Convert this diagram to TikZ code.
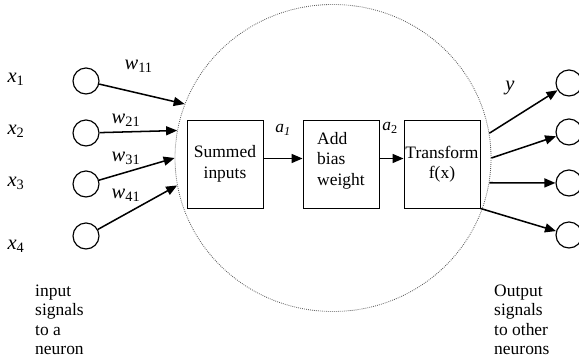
\documentclass[tikz,border=0pt]{standalone}
\usepackage{fontspec}
\setmainfont{Liberation Serif}
\usetikzlibrary{arrows.meta, shapes.geometric, positioning}
\newcommand{\boxtxt}{\fontsize{14.9}{17.5}\selectfont}
\newcommand{\labtxt}{\fontsize{17.5}{20}\selectfont}
\newcommand{\sidetxt}{\fontsize{14.9}{16.6}\selectfont}

\begin{document}
\begin{tikzpicture}[
    box/.style={draw, minimum width=2.28cm, minimum height=2.64cm,
                align=center, inner sep=0pt, font=\boxtxt, line width=0.8pt},
    sig/.style={draw, circle, minimum size=0.78cm, inner sep=0pt, line width=1pt},
    arr/.style={-{Triangle[length=0.33cm, width=0.27cm]}, line width=1.3pt},
    lab/.style={font=\labtxt, inner sep=0pt}
  ]
    \useasboundingbox (0,0) rectangle (17.37,10.92);

    % Neuron body
    \node[ellipse, draw, densely dotted, black!65, line width=0.7pt,
          minimum width=9.48cm, minimum height=9.21cm] (neuron) at (9.99, 6.18) {};

    % Inputs
    \node[sig] (i1) at (2.58, 8.49) {};
    \node[sig] (i2) at (2.58, 6.93) {};
    \node[sig] (i3) at (2.58, 5.40) {};
    \node[sig] (i4) at (2.58, 3.84) {};

    \node[lab] (x1) at (0.48, 8.55) {\textit{x}\textsubscript{1}};
    \node[lab] (x2) at (0.48, 6.99) {\textit{x}\textsubscript{2}};
    \node[lab] (x3) at (0.48, 5.43) {\textit{x}\textsubscript{3}};
    \node[lab] (x4) at (0.48, 3.54) {\textit{x}\textsubscript{4}};

    \draw[arr] (i1) -- (neuron.160);
    \draw[arr] (i2) -- (neuron.170);
    \draw[arr] (i3) -- (neuron.180);
    \draw[arr] (i4) -- (neuron.190);

    \node[lab] (w11) at (4.16, 8.94) {\textit{w}\textsubscript{11}};
    \node[lab] (w21) at (3.78, 7.32) {\textit{w}\textsubscript{21}};
    \node[lab] (w31) at (3.78, 6.18) {\textit{w}\textsubscript{31}};
    \node[lab] (w41) at (3.78, 5.07) {\textit{w}\textsubscript{41}};

    % Processing steps
    \node[box] (sum) at (6.75, 6.0) {Summed\\inputs};
    \node[box, align=left] (bias) at (10.23, 6.0) {Add\\bias\\weight\\[-0.3cm]};
    \node[box] (trans) at (13.26, 6.0) {Transform\\f(x)};

    \draw[arr] ([yshift=0.165cm]sum.east) -- ([yshift=0.165cm]bias.west);
    \draw[arr] ([yshift=0.165cm]bias.east) -- ([yshift=0.165cm]trans.west);

    \node[font=\boxtxt, inner sep=0pt] (a1) at (8.49, 7.02) {\textit{a\textsubscript{1}}};
    \node[font=\boxtxt, inner sep=0pt] (a2) at (11.70, 7.08) {\textit{a}\textsubscript{2}};

    % Outputs
    \node[sig] (o1) at (17.07, 8.43) {};
    \node[sig] (o2) at (17.07, 6.96) {};
    \node[sig] (o3) at (17.07, 5.43) {};
    \node[sig] (o4) at (17.07, 3.87) {};

    \draw[arr] (neuron.9) -- (o1);
    \draw[arr] (neuron.0) -- (o2);
    \draw[arr] (neuron.351) -- (o3);
    \draw[arr] (trans.south east) -- (o4);

    \node[lab] (y) at (15.30, 8.28) {\textit{y}};

    % Side notes
    \node[font=\sidetxt, align=left, anchor=west, inner sep=0pt] (innote) at (1.05, 1.32)
      {input\\signals\\to a\\neuron};
    \node[font=\sidetxt, align=left, anchor=west, inner sep=0pt] (outnote) at (14.82, 1.32)
      {Output\\signals\\to other\\neurons};
  \end{tikzpicture}
\end{document}
